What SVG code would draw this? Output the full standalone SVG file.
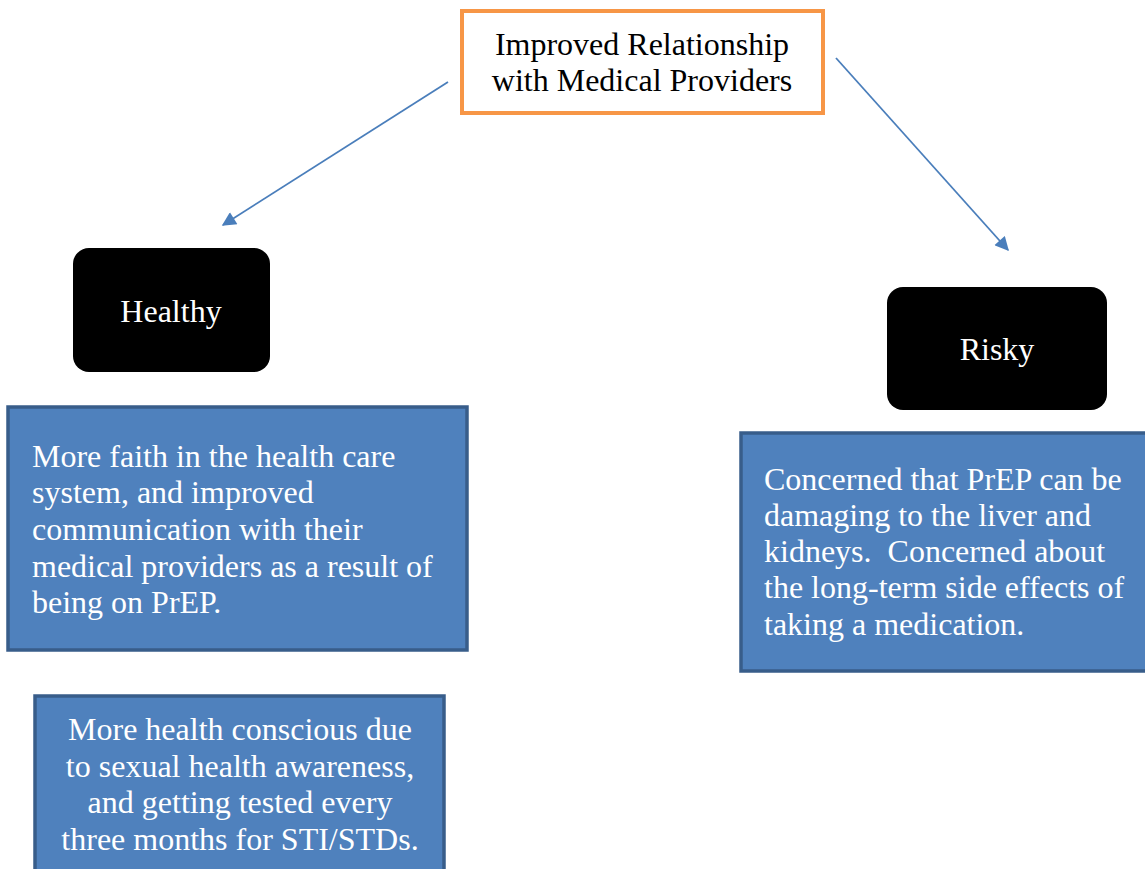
<svg xmlns="http://www.w3.org/2000/svg" width="1145" height="869" viewBox="0 0 1145 869">
<style>
  text { font-family: "Liberation Serif", "Times New Roman", serif; font-size: 32px; white-space: pre; }
  .dark { fill: #000000; }
  .white { fill: #ffffff; }
  .blue { fill: #4F81BD; stroke: #385D8A; stroke-width: 3.5; }
  .black { fill: #000000; }
  .conn { stroke: #4A7EBB; stroke-width: 1.8; fill: none; }
</style>
<defs>
  <marker id="arrow" viewBox="0 0 10 10" refX="9" refY="5" markerWidth="16" markerHeight="14" markerUnits="userSpaceOnUse" orient="auto">
    <path d="M0,0 L10,5 L0,10 z" fill="#4A7EBB"/>
  </marker>
</defs>
<rect width="1145" height="869" fill="#ffffff"/>
<g id="connectors">
  <line class="conn" x1="448" y1="82" x2="223" y2="225" marker-end="url(#arrow)"/>
  <line class="conn" x1="836" y1="58" x2="1008" y2="250" marker-end="url(#arrow)"/>
</g>
<g id="node-top">
  <rect x="462" y="11" width="361" height="102" fill="#ffffff" stroke="#F79646" stroke-width="4"/>
  <text class="dark" x="642" y="55" text-anchor="middle">Improved Relationship</text>
  <text class="dark" x="642" y="91" text-anchor="middle">with Medical Providers</text>
</g>
<g id="node-healthy">
  <rect class="black" x="73" y="248" width="197" height="124" rx="16"/>
  <text class="white" x="171" y="322" text-anchor="middle">Healthy</text>
</g>
<g id="node-risky">
  <rect class="black" x="887" y="287" width="220" height="123" rx="16"/>
  <text class="white" x="997" y="360" text-anchor="middle">Risky</text>
</g>
<g id="node-faith">
  <rect class="blue" x="8" y="407" width="459" height="243"/>
  <text class="white" x="32" y="467">More faith in the health care</text>
  <text class="white" x="32" y="503">system, and improved</text>
  <text class="white" x="32" y="540">communication with their</text>
  <text class="white" x="32" y="577">medical providers as a result of</text>
  <text class="white" x="32" y="613">being on PrEP.</text>
</g>
<g id="node-concerned">
  <rect class="blue" x="741" y="433" width="410" height="238"/>
  <text class="white" x="764" y="490">Concerned that PrEP can be</text>
  <text class="white" x="764" y="526">damaging to the liver and</text>
  <text class="white" x="764" y="562">kidneys.  Concerned about</text>
  <text class="white" x="764" y="598">the long-term side effects of</text>
  <text class="white" x="764" y="635">taking a medication.</text>
</g>
<g id="node-conscious">
  <rect class="blue" x="35" y="696" width="409" height="190"/>
  <text class="white" x="240" y="740" text-anchor="middle">More health conscious due</text>
  <text class="white" x="240" y="777" text-anchor="middle">to sexual health awareness,</text>
  <text class="white" x="240" y="813" text-anchor="middle">and getting tested every</text>
  <text class="white" x="240" y="850" text-anchor="middle">three months for STI/STDs.</text>
</g>
</svg>
